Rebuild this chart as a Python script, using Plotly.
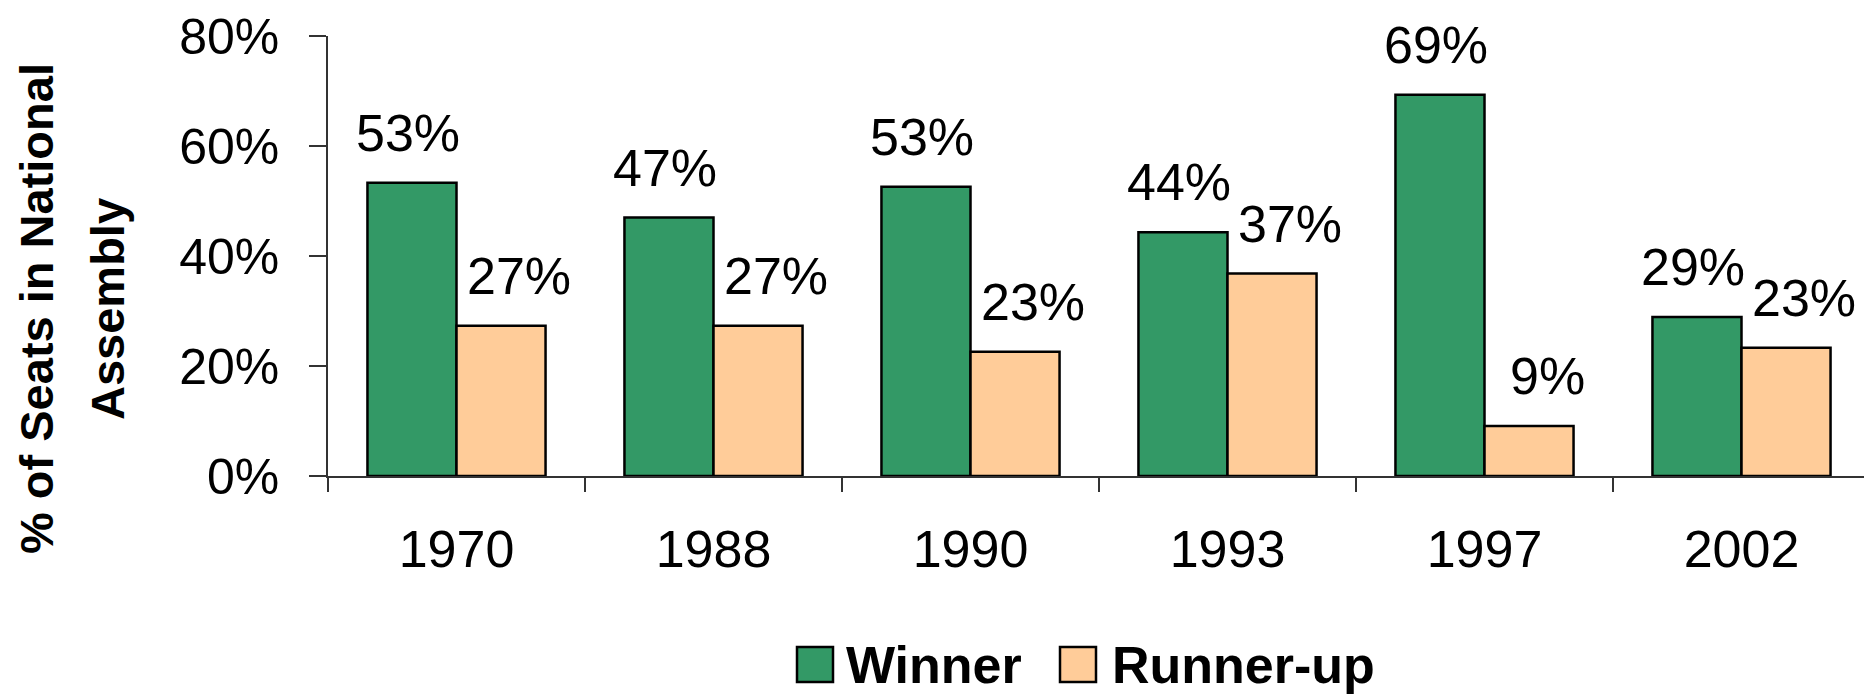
import plotly.graph_objects as go

# ---- data ----
years = ["1970", "1988", "1990", "1993", "1997", "2002"]
series_names = ["Winner", "Runner-up"]
winner = [53.3, 47.0, 52.6, 44.3, 69.3, 28.9]
runner_up = [27.3, 27.3, 22.6, 36.8, 9.1, 23.3]
y_ticks = [0, 20, 40, 60, 80]
y_title_lines = ["% of Seats in National", "Assembly"]

colors = ["#339966", "#FFCC99"]
FONT = "Liberation Sans, Arial, sans-serif"

OFF = 8  # page body margin
W, H = 1872 - OFF, 695 - OFF
L, R, T, B = 328 - OFF, 2, 36 - OFF, 695 - 476
PW, PH = W - L - R, H - T - B


def px2paper(px, py):
    """page pixel coords -> paper coords"""
    px -= OFF
    py -= OFF
    return (px - L) / PW, (H - B - py) / PH


BARGAP = 0.307
bar_w = (1 - BARGAP) / 2

fig = go.Figure()
for name, vals, col in zip(series_names, [winner, runner_up], colors):
    fig.add_trace(go.Bar(
        x=years, y=vals, name=name,
        marker=dict(color=col, line=dict(color="black", width=2.5)),
        showlegend=False,
    ))

annotations = []
# data labels
for si, vals in enumerate([winner, runner_up]):
    off = (-0.5 + si) * bar_w
    xshift = -4 if si == 0 else 18
    for i, v in enumerate(vals):
        annotations.append(dict(
            x=i + off, y=v, xref="x", yref="y",
            text=f"{round(v)}%", showarrow=False,
            xanchor="center", yanchor="bottom", yshift=19, xshift=xshift,
            font=dict(family=FONT, size=52, color="black"),
        ))

# y-axis title (two lines)
for line, lx in zip(y_title_lines, [36, 107]):
    tx, ty = px2paper(lx, 309)
    annotations.append(dict(
        x=tx, y=ty, xref="paper", yref="paper",
        text=f"<b>{line}</b>",
        textangle=-90, showarrow=False, xanchor="center", yanchor="middle",
        font=dict(family=FONT, size=47, color="black"),
    ))

# manual legend
shapes = []
legend_items = [(797, 844), (1060, 1110)]
LEG_Y0, LEG_Y1 = 647, 682
for (sx, tx_px), name, col in zip(legend_items, series_names, colors):
    x0, y0 = px2paper(sx, LEG_Y0)
    x1, y1 = px2paper(sx + 36, LEG_Y1)
    shapes.append(dict(type="rect", xref="paper", yref="paper",
                       x0=x0, x1=x1, y0=y1, y1=y0,
                       fillcolor=col, line=dict(color="black", width=2.5)))
    ax, ay = px2paper(tx_px, (LEG_Y0 + LEG_Y1) / 2)
    annotations.append(dict(
        x=ax, y=ay, xref="paper", yref="paper", text=f"<b>{name}</b>",
        showarrow=False, xanchor="left", yanchor="middle",
        font=dict(family=FONT, size=52, color="black"),
    ))

fig.update_layout(
    width=W, height=H,
    margin=dict(l=L, r=R, t=T, b=B, pad=0, autoexpand=False),
    barmode="group", bargap=BARGAP, bargroupgap=0,
    plot_bgcolor="white", paper_bgcolor="white",
    font=dict(family=FONT, color="black"),
    annotations=annotations, shapes=shapes,
    xaxis=dict(
        type="category", showgrid=False, zeroline=False, automargin=False,
        showline=True, linecolor="#333333", linewidth=1.5,
        ticks="outside", tickson="boundaries", ticklen=14,
        tickcolor="#333333", tickwidth=1.5,
        tickfont=dict(family=FONT, size=52, color="black"),
        ticklabelstandoff=27,
    ),
    yaxis=dict(
        range=[0, 80], tickvals=y_ticks, ticktext=[f"{t}%" for t in y_ticks],
        showgrid=False, zeroline=False, automargin=False,
        showline=True, linecolor="#333333", linewidth=1.5,
        ticks="outside", ticklen=17, tickcolor="#333333", tickwidth=1.5,
        tickfont=dict(family=FONT, size=50, color="black"),
        ticklabelstandoff=20, ticklabeloverflow="allow",
    ),
)

fig.write_html("out.html")
